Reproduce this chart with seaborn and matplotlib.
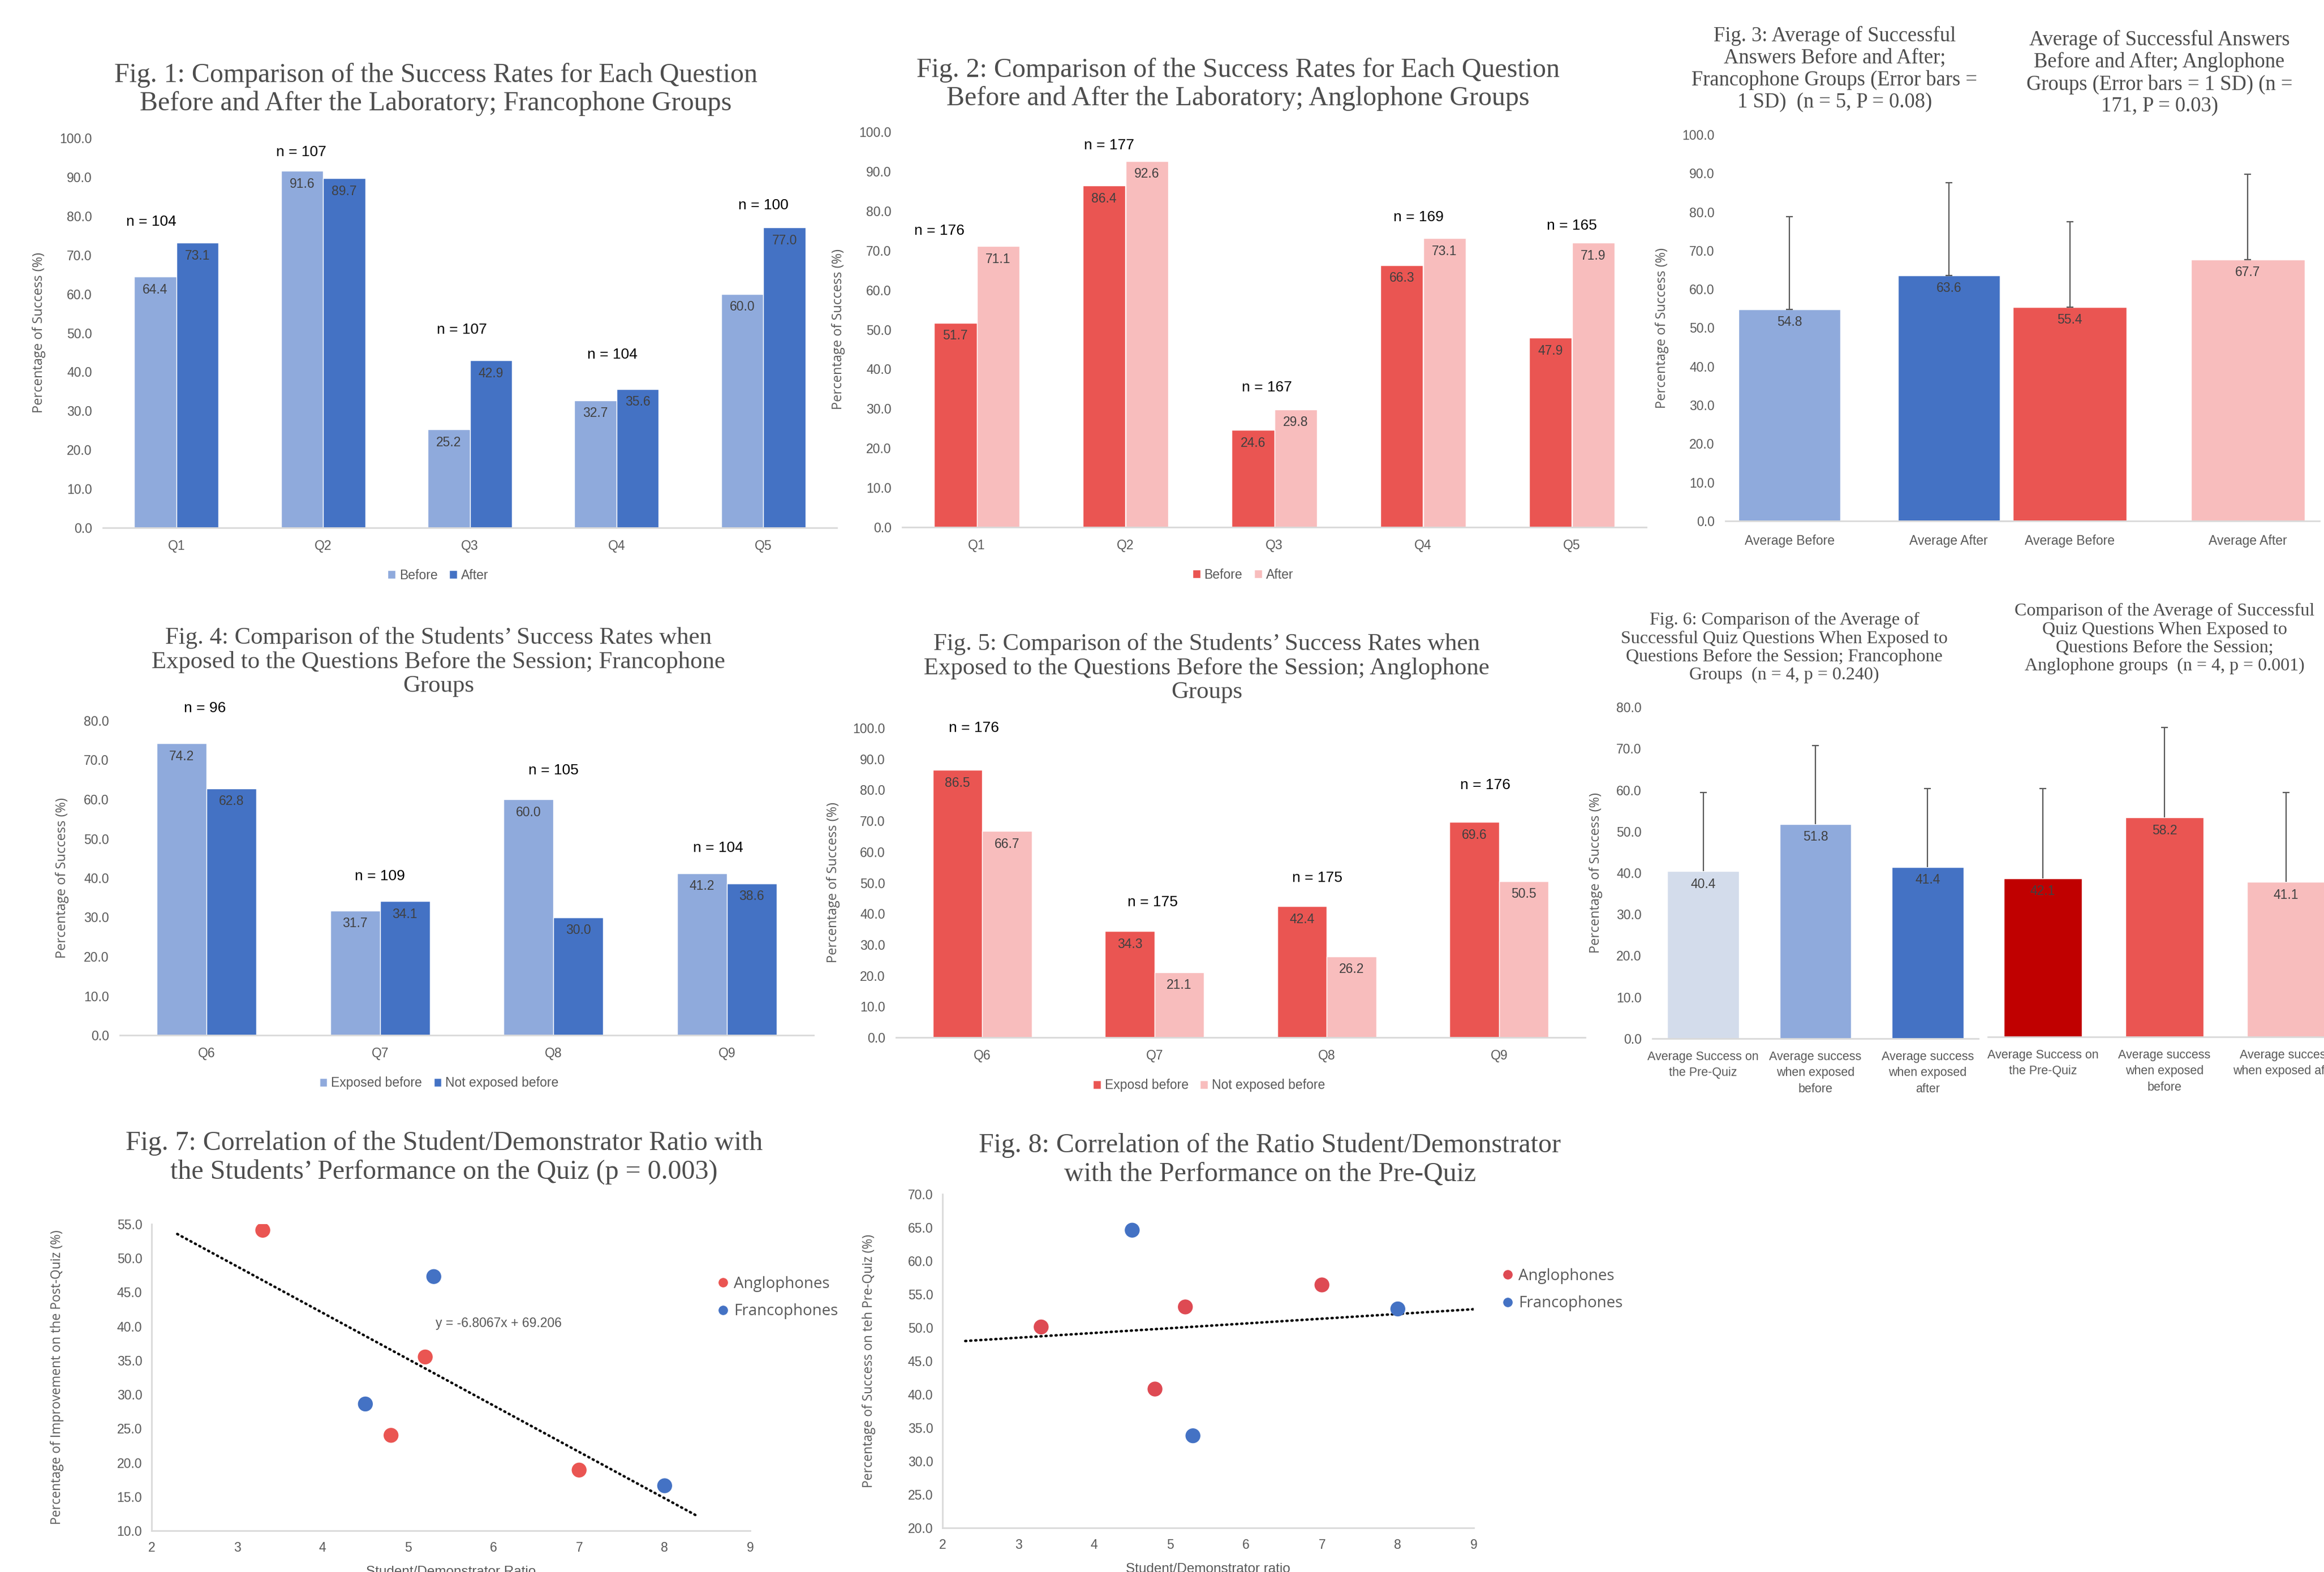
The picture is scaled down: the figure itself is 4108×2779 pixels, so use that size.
import numpy as np
import pandas as pd
import matplotlib
matplotlib.use("Agg")
import matplotlib.pyplot as plt
from matplotlib.ticker import FormatStrFormatter
from matplotlib.lines import Line2D
from matplotlib.container import BarContainer
import seaborn as sns

# ---------------- DATA ----------------
q1_5 = ["Q1", "Q2", "Q3", "Q4", "Q5"]
fig1_before = [64.4, 91.6, 25.2, 32.7, 60.0]
fig1_after = [73.1, 89.7, 42.9, 35.6, 77.0]
fig1_n = [104, 107, 107, 104, 100]

fig2_before = [51.7, 86.4, 24.6, 66.3, 47.9]
fig2_after = [71.1, 92.6, 29.8, 73.1, 71.9]
fig2_n = [176, 177, 167, 169, 165]

fig3_labels = ["Average Before", "Average After"]
fig3_fr_vals = [54.8, 63.6]
fig3_fr_sd = [24.0, 24.0]
fig3_an_vals = [55.4, 67.7]
fig3_an_sd = [22.0, 22.0]

q6_9 = ["Q6", "Q7", "Q8", "Q9"]
fig4_exposed = [74.2, 31.7, 60.0, 41.2]
fig4_not = [62.8, 34.1, 30.0, 38.6]
fig4_n = [96, 109, 105, 104]

fig5_exposed = [86.5, 34.3, 42.4, 69.6]
fig5_not = [66.7, 21.1, 26.2, 50.5]
fig5_n = [176, 175, 175, 176]

fig6_labels = ["Average Success on the Pre-Quiz",
               "Average success when exposed before",
               "Average success when exposed after"]
fig6_fr_ticks = ["Average Success on\nthe Pre-Quiz",
                 "Average success\nwhen exposed\nbefore",
                 "Average success\nwhen exposed\nafter"]
fig6_an_ticks = ["Average Success on\nthe Pre-Quiz",
                 "Average success\nwhen exposed\nbefore",
                 "Average success\nwhen exposed after"]
fig6_fr_vals = [40.4, 51.8, 41.4]
fig6_fr_sd = [19.0, 18.9, 19.0]
fig6_an_vals = [42.1, 58.2, 41.1]
fig6_an_sd = [23.9, 23.9, 23.8]

fig7_an_x = [3.3, 4.8, 5.2, 7.0]
fig7_an_y = [54.1, 24.0, 35.5, 18.9]
fig7_fr_x = [4.5, 5.3, 8.0]
fig7_fr_y = [28.6, 47.3, 16.6]
fig7_slope = -6.8067
fig7_intercept = 69.206

fig8_an_x = [3.3, 4.8, 5.2, 7.0]
fig8_an_y = [50.1, 40.8, 53.1, 56.4]
fig8_fr_x = [4.5, 5.3, 8.0]
fig8_fr_y = [64.6, 33.8, 52.8]

# ---------------- STYLE ----------------
sns.set_theme(style="white")
SANS = ["Liberation Sans", "DejaVu Sans"]
plt.rcParams["font.family"] = SANS
SERIF = ["Liberation Serif", "DejaVu Serif"]
OPEN = ["Open Sans", "DejaVu Sans"]
GRAY = "#595959"
LBLUE, BLUE, PBLUE = "#8FAADC", "#4472C4", "#D3DCEB"
RED, PINK, DRED = "#EA5552", "#F8BDBD", "#C00000"
TICK = 16.5
VAL = 16.5

W, H = 4108, 2779
fig = plt.figure(figsize=(W / 100, H / 100), dpi=100)
fig.patch.set_facecolor("white")


def add_ax(l, r, b, t):
    return fig.add_axes([l / W, 1 - b / H, (r - l) / W, (b - t) / H])


def fig_title(x, y, txt, size, ls=1.17):
    fig.text(x / W, 1 - y / H, txt, ha="center", va="center", fontsize=size,
             family=SERIF, color="#4D4D4D", linespacing=ls)


def label_bars(ax):
    for c in ax.containers:
        if isinstance(c, BarContainer):
            ax.bar_label(c, fmt="%.1f", padding=-25, fontsize=VAL, color="#404040")


def style_bar(ax, ylim, step, show_y=True, ylabel_px=None, l=None, r=None):
    for s in ["top", "right", "left"]:
        ax.spines[s].set_visible(False)
    ax.spines["bottom"].set_color("#D9D9D9")
    ax.spines["bottom"].set_linewidth(2)
    ax.set_facecolor("none")
    ax.grid(False)
    ax.set_ylim(0, ylim)
    ax.tick_params(length=0, colors=GRAY, labelsize=TICK)
    ax.tick_params(axis="x", pad=15)
    ax.tick_params(axis="y", pad=14)
    ax.set_xlabel("")
    if show_y:
        ax.set_yticks(np.arange(0, ylim + 0.1, step))
        ax.yaxis.set_major_formatter(FormatStrFormatter("%.1f"))
        ax.set_ylabel("Percentage of Success (%)", family=OPEN, fontsize=17, color=GRAY)
        ax.yaxis.set_label_coords((ylabel_px - l) / (r - l), 0.5)
    else:
        ax.set_yticks([])
        ax.set_ylabel("")


def grouped(l, r, b, t, cats, s1, s2, names, colors, ylim, step, n_vals,
            n_y, n_dx, ylabel_px, leg_xy):
    ax = add_ax(l, r, b, t)
    df = pd.DataFrame({"cat": cats * 2, "val": s1 + s2,
                       "series": [names[0]] * len(cats) + [names[1]] * len(cats)})
    sns.barplot(data=df, x="cat", y="val", hue="series", order=cats,
                hue_order=names, palette=colors, width=0.575, saturation=1,
                errorbar=None, ax=ax)
    style_bar(ax, ylim, step, True, ylabel_px, l, r)
    label_bars(ax)
    for i, (n, yy, dx) in enumerate(zip(n_vals, n_y, n_dx)):
        ax.text(i + dx, yy, f"n = {n}", ha="center", va="center", fontsize=19,
                color="black")
    sns.move_legend(ax, "center", bbox_to_anchor=(leg_xy[0] / W, 1 - leg_xy[1] / H),
                    bbox_transform=fig.transFigure, ncol=2, title=None,
                    frameon=False, fontsize=TICK, handlelength=0.6,
                    handleheight=0.6, handletextpad=0.3, columnspacing=0.9)
    for tx in ax.get_legend().get_texts():
        tx.set_color(GRAY)
    return ax


def single(l, r, b, t, cats, vals, sds, colors, ylim, step, show_y, ylabel_px,
           labelsize=TICK, lower_cap=True):
    ax = add_ax(l, r, b, t)
    df = pd.DataFrame({"cat": cats, "val": vals})
    sns.barplot(data=df, x="cat", y="val", hue="cat", order=cats, hue_order=cats,
                palette=colors, width=0.64, saturation=1, errorbar=None,
                legend=False, ax=ax)
    label_bars(ax)
    xs = np.arange(len(vals))
    tops = np.array(vals) + np.array(sds)
    ax.vlines(xs, vals, tops, color=GRAY, lw=1.6, zorder=5)
    ax.plot(xs, tops, ls="none", marker="_", ms=9, mew=1.6, color=GRAY, zorder=5)
    if lower_cap:
        ax.plot(xs, vals, ls="none", marker="_", ms=9, mew=1.6, color=GRAY, zorder=5)
    style_bar(ax, ylim, step, show_y, ylabel_px, l, r)
    ax.tick_params(axis="x", labelsize=labelsize)
    return ax


# ---------------- FIG 1 ----------------
fig_title(770, 158, "Fig. 1: Comparison of the Success Rates for Each Question\n"
          "Before and After the Laboratory; Francophone Groups", 34.5)
grouped(182, 1479, 933, 244, q1_5, fig1_before, fig1_after, ["Before", "After"],
        [LBLUE, BLUE], 100, 10, fig1_n,
        [78.5, 96.4, 50.8, 44.4, 82.8], [-0.17, -0.15, -0.055, -0.03, 0.0],
        81, (774, 1017))

# ---------------- FIG 2 ----------------
fig_title(2188, 149, "Fig. 2: Comparison of the Success Rates for Each Question\n"
          "Before and After the Laboratory; Anglophone Groups", 34.5)
grouped(1595, 2910, 932, 233, q1_5, fig2_before, fig2_after, ["Before", "After"],
        [RED, PINK], 100, 10, fig2_n,
        [75.0, 96.6, 35.3, 78.4, 76.3], [-0.25, -0.11, -0.05, -0.03, 0.0],
        1494, (2197, 1016))

# ---------------- FIG 3 ----------------
fig_title(3243, 122, "Fig. 3: Average of Successful\nAnswers Before and After;\n"
          "Francophone Groups (Error bars =\n1 SD)  (n = 5, P = 0.08)", 26.3, 1.16)
fig_title(3817, 129, "Average of Successful Answers\nBefore and After; Anglophone\n"
          "Groups (Error bars = 1 SD) (n =\n171, P = 0.03)", 26.3, 1.16)
a3 = single(3050, 3558, 921, 238, fig3_labels, fig3_fr_vals, fig3_fr_sd,
            [LBLUE, BLUE], 100, 10, True, 2950)
b3 = single(3532, 4100, 921, 238, fig3_labels, fig3_an_vals, fig3_an_sd,
            [RED, PINK], 100, 10, False, None)
for a in (a3, b3):
    a.tick_params(axis="x", pad=17)

# ---------------- FIG 4 ----------------
fig_title(775, 1170, "Fig. 4: Comparison of the Students’ Success Rates when\n"
          "Exposed to the Questions Before the Session; Francophone\nGroups", 30.8, 1.12)
grouped(212, 1438, 1830, 1274, q6_9, fig4_exposed, fig4_not,
        ["Exposed before", "Not exposed before"], [LBLUE, BLUE], 80, 10, fig4_n,
        [83.1, 40.4, 67.4, 47.6], [-0.01, 0.0, 0.0, -0.05], 122, (776, 1915))

# ---------------- FIG 5 ----------------
fig_title(2133, 1181, "Fig. 5: Comparison of the Students’ Success Rates when\n"
          "Exposed to the Questions Before the Session; Anglophone\nGroups", 30.8, 1.12)
grouped(1584, 2802, 1834, 1287, q6_9, fig5_exposed, fig5_not,
        ["Exposd before", "Not exposed before"], [RED, PINK], 100, 10, fig5_n,
        [100.0, 43.7, 51.5, 81.5], [-0.05, -0.01, -0.056, -0.08], 1485, (2137, 1919))

# ---------------- FIG 6 ----------------
fig_title(3154, 1145, "Fig. 6: Comparison of the Average of\nSuccessful Quiz Questions "
          "When Exposed to\nQuestions Before the Session; Francophone\n"
          "Groups  (n = 4, p = 0.240)", 23, 1.15)
fig_title(3826, 1129, "Comparison of the Average of Successful\nQuiz Questions When "
          "Exposed to\nQuestions Before the Session;\nAnglophone groups  "
          "(n = 4, p = 0.001)", 23, 1.15)
a6 = single(2921, 3497, 1836, 1250, fig6_labels, fig6_fr_vals, fig6_fr_sd,
            [PBLUE, LBLUE, BLUE], 80, 10, True, 2833, labelsize=15.5, lower_cap=False)
b6 = single(3514, 4138, 1833, 1247, fig6_labels, fig6_an_vals, fig6_an_sd,
            [DRED, RED, PINK], 88, 10, False, None, labelsize=15.5, lower_cap=False)
a6.set_xticks(range(len(fig6_fr_ticks)), fig6_fr_ticks)
b6.set_xticks(range(len(fig6_an_ticks)), fig6_an_ticks)
for a in (a6, b6):
    for tl in a.get_xticklabels():
        tl.set_linespacing(1.45)
    a.tick_params(axis="x", pad=16, labelsize=15.5, colors=GRAY)


# ---------------- SCATTERS ----------------
def scatter_panel(l, r, b, t, ax_x, ax_y, fr_x, fr_y, an_col, xlim, ylim, ystep,
                  ylabel, xlabel, ylabel_px, leg_left, leg_cy):
    ax = add_ax(l, r, b, t)
    df = pd.DataFrame({"ratio": ax_x + fr_x, "score": ax_y + fr_y,
                       "group": ["Anglophones"] * len(ax_x) + ["Francophones"] * len(fr_x)})
    sns.scatterplot(data=df, x="ratio", y="score", hue="group",
                    hue_order=["Anglophones", "Francophones"],
                    palette=[an_col, BLUE], s=360, linewidth=0, legend=False,
                    ax=ax, zorder=3)
    for s in ["top", "right"]:
        ax.spines[s].set_visible(False)
    for s in ["left", "bottom"]:
        ax.spines[s].set_color("#D9D9D9")
        ax.spines[s].set_linewidth(2)
    ax.grid(False)
    ax.set_xlim(*xlim)
    ax.set_ylim(*ylim)
    ax.set_xticks(np.arange(xlim[0], xlim[1] + 1, 1))
    ax.set_yticks(np.arange(ylim[0], ylim[1] + 0.1, ystep))
    ax.yaxis.set_major_formatter(FormatStrFormatter("%.1f"))
    ax.tick_params(length=0, colors=GRAY, labelsize=TICK)
    ax.tick_params(axis="x", pad=14)
    ax.tick_params(axis="y", pad=12)
    ax.set_ylabel(ylabel, family=OPEN, fontsize=16.5, color=GRAY)
    ax.yaxis.set_label_coords((ylabel_px - l) / (r - l), 0.5)
    ax.set_xlabel(xlabel, fontsize=17.5, color=GRAY, labelpad=14)
    handles = [Line2D([], [], marker="o", ls="none", color=an_col, markersize=11),
               Line2D([], [], marker="o", ls="none", color=BLUE, markersize=11)]
    leg = ax.legend(handles, ["Anglophones", "Francophones"], loc="center left",
                    bbox_to_anchor=(leg_left / W, 1 - leg_cy / H),
                    bbox_transform=fig.transFigure, frameon=False,
                    prop={"family": OPEN, "size": 20}, handlelength=0.8,
                    handletextpad=0.3, borderpad=0, labelspacing=0.75)
    for tx in leg.get_texts():
        tx.set_color(GRAY)
    return ax


fig_title(785, 2046, "Fig. 7: Correlation of the Student/Demonstrator Ratio with\n"
          "the Students’ Performance on the Quiz (p = 0.003)", 34.5)
ax7 = scatter_panel(268, 1326, 2706, 2164, fig7_an_x, fig7_an_y, fig7_fr_x, fig7_fr_y,
                    RED, (2, 9), (10, 55), 5,
                    "Percentage of Improvement on the Post-Quiz (%)",
                    "Student/Demonstrator Ratio", 113, 1253, 2294)
tx7 = np.array([2.3, 8.4])
ax7.plot(tx7, fig7_slope * tx7 + fig7_intercept, color="black", lw=3.2,
         ls=(0, (0.4, 1.6)), dash_capstyle="round", zorder=2)
ax7.text(5.32, 40.4, f"y = {fig7_slope}x + {fig7_intercept}", ha="left",
         va="center", fontsize=16.5, color=GRAY)

fig_title(2245, 2050, "Fig. 8: Correlation of the Ratio Student/Demonstrator\n"
          "with the Performance on the Pre-Quiz", 34.5)
ax8 = scatter_panel(1666, 2605, 2701, 2111, fig8_an_x, fig8_an_y, fig8_fr_x, fig8_fr_y,
                    "#DE4A53", (2, 9), (20, 70), 5,
                    "Percentage of Success on teh Pre-Quiz (%)",
                    "Student/Demonstrator ratio", 1548, 2640, 2280)
all_x = np.array(fig8_an_x + fig8_fr_x)
all_y = np.array(fig8_an_y + fig8_fr_y)
m8, c8 = np.polyfit(all_x, all_y, 1)
tx8 = np.array([2.3, 9.0])
ax8.plot(tx8, m8 * tx8 + c8, color="black", lw=3.2, ls=(0, (0.4, 1.6)),
         dash_capstyle="round", zorder=2)

fig.savefig("out.png", dpi=100, facecolor="white")
